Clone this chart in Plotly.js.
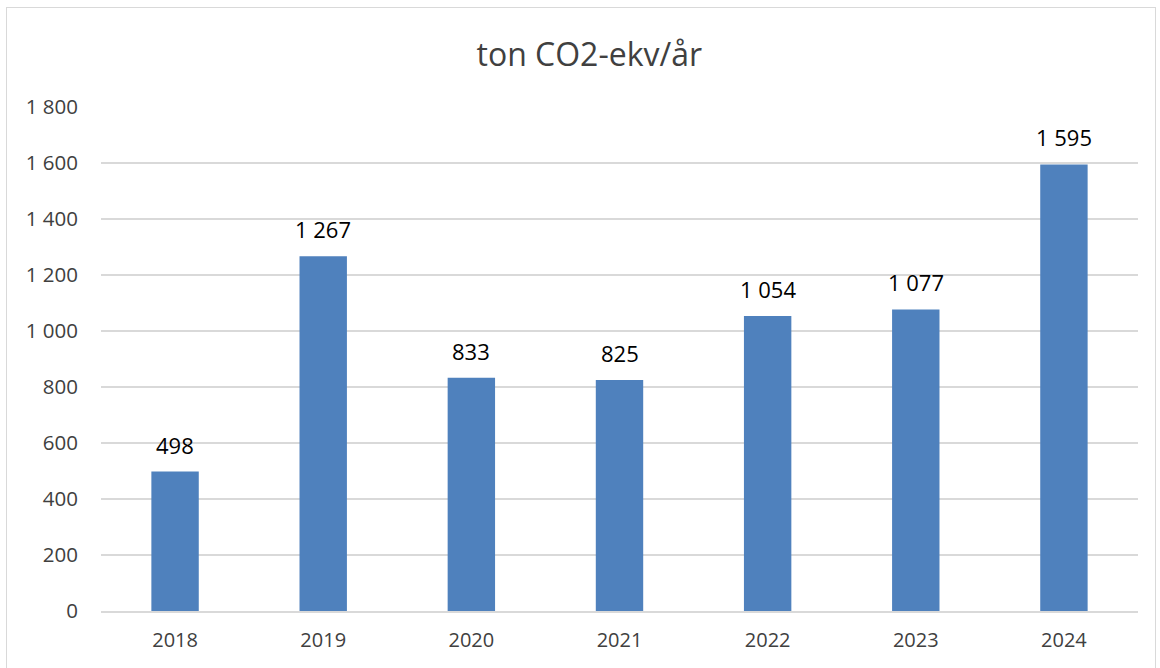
<!DOCTYPE html>
<html>
<head>
<meta charset="utf-8">
<script src="https://cdn.plot.ly/plotly-3.0.1.min.js"></script>
<style>
  html, body { margin: 0; padding: 0; background: #fff; }
  #wrap { position: relative; width: 1160px; height: 668px; }
  #frame { position: absolute; left: 6px; top: 7px; width: 1150px; height: 662px; border: 1.5px solid #d9d9d9; box-sizing: border-box; }
  #chart { position: absolute; left: 0; top: 0; width: 1160px; height: 668px; }
</style>
</head>
<body>
<div id="wrap">
  <div id="frame"></div>
  <div id="chart"></div>
</div>
<script>
const years = ['2018', '2019', '2020', '2021', '2022', '2023', '2024'];
const emissions = [498, 1267, 833, 825, 1054, 1077, 1595];
const tickVals = [0, 200, 400, 600, 800, 1000, 1200, 1400, 1600, 1800];
const tickLabels = ['0', '200', '400', '600', '800', '1 000', '1 200', '1 400', '1 600', '1 800'];

const fontFam = '"Open Sans", "Noto Sans", sans-serif';
const fmt = v => v.toString().replace(/\B(?=(\d{3})+(?!\d))/g, ' ');

const trace = {
  type: 'bar', x: years, y: emissions,
  marker: { color: '#4F81BD' },
  hoverinfo: 'x+y'
};

// value labels placed by category index (avoid numeric-like category strings)
const annotations = emissions.map((v, i) => ({
  x: i, y: v, xref: 'x', yref: 'y',
  text: fmt(v), showarrow: false,
  xanchor: 'center', yanchor: 'middle', yshift: 27,
  font: { family: fontFam, size: 22, color: '#000000' }
}));

const layout = {
  width: 1160, height: 668,
  margin: { l: 101, r: 22, t: 107, b: 57 },
  paper_bgcolor: 'rgba(0,0,0,0)', plot_bgcolor: 'rgba(0,0,0,0)',
  bargap: 0.68,
  showlegend: false,
  title: { text: 'ton CO2-ekv/år', x: 0.508, xanchor: 'center', y: 0.918, yanchor: 'middle',
           font: { family: fontFam, size: 32, color: '#404040' } },
  xaxis: { type: 'category', showgrid: false, showline: true, linecolor: '#d9d9d9', linewidth: 1.5,
           ticks: 'outside', ticklen: 10, tickcolor: 'rgba(0,0,0,0)',
           tickfont: { family: fontFam, size: 20, color: '#404040' } },
  yaxis: { range: [0, 1800], tickvals: tickVals, ticktext: tickLabels, showgrid: true, gridcolor: '#d9d9d9', gridwidth: 1.3,
           zeroline: false, showline: false, ticks: 'outside', ticklen: 18, tickcolor: 'rgba(0,0,0,0)',
           tickfont: { family: fontFam, size: 20.5, color: '#404040' } },
  annotations: annotations
};

Plotly.newPlot('chart', [trace], layout, { staticPlot: true, displayModeBar: false });
</script>
</body>
</html>
